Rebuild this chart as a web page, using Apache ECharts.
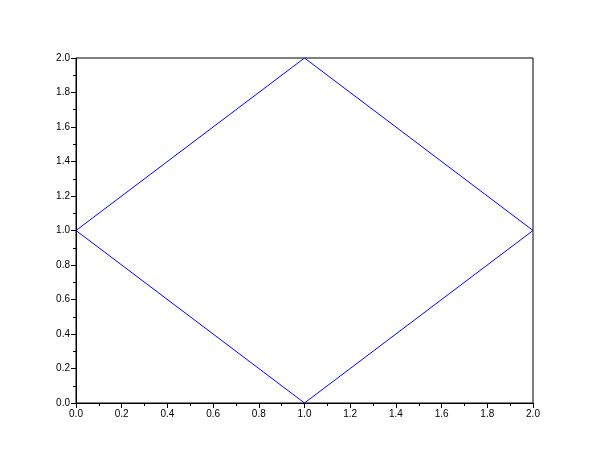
<!DOCTYPE html>
<html><head><meta charset="utf-8">
<script src="https://cdn.jsdelivr.net/npm/echarts@6/dist/echarts.min.js"></script>
<style>html,body{margin:0;padding:0;background:#fff}#c{width:610px;height:460px}</style>
</head><body><div id="c"></div>
<script>
const xValues = [0, 1, 2, 1, 0];
const yValues = [1, 2, 1, 0, 1];
const chart = echarts.init(document.getElementById('c'), null, {renderer: 'canvas'});
const axisCommon = {
  type: 'value', min: 0, max: 2, interval: 0.2,
  axisLine: {show: true, lineStyle: {color: '#000', width: 1}},
  axisTick: {show: true, inside: false, length: 5, lineStyle: {color: '#000'}},
  minorTick: {show: true, splitNumber: 2, length: 3, lineStyle: {color: '#000'}},
  splitLine: {show: false},
  axisLabel: {color: '#000', fontSize: 10, fontFamily: 'Liberation Sans, Arial, sans-serif', margin: 6,
    formatter: v => v.toFixed(1)}
};
chart.setOption({
  animation: false,
  backgroundColor: '#fff',
  grid: {left: 76, top: 58, right: 77, bottom: 57, show: true, borderColor: '#000', borderWidth: 1, backgroundColor: 'transparent'},
  xAxis: Object.assign({}, axisCommon),
  yAxis: Object.assign({}, axisCommon),
  series: [{
    type: 'line',
    data: xValues.map((x, i) => [x, yValues[i]]),
    showSymbol: false,
    lineStyle: {color: '#0000ff', width: 1},
    itemStyle: {color: '#0000ff'}
  }]
});
</script></body></html>
